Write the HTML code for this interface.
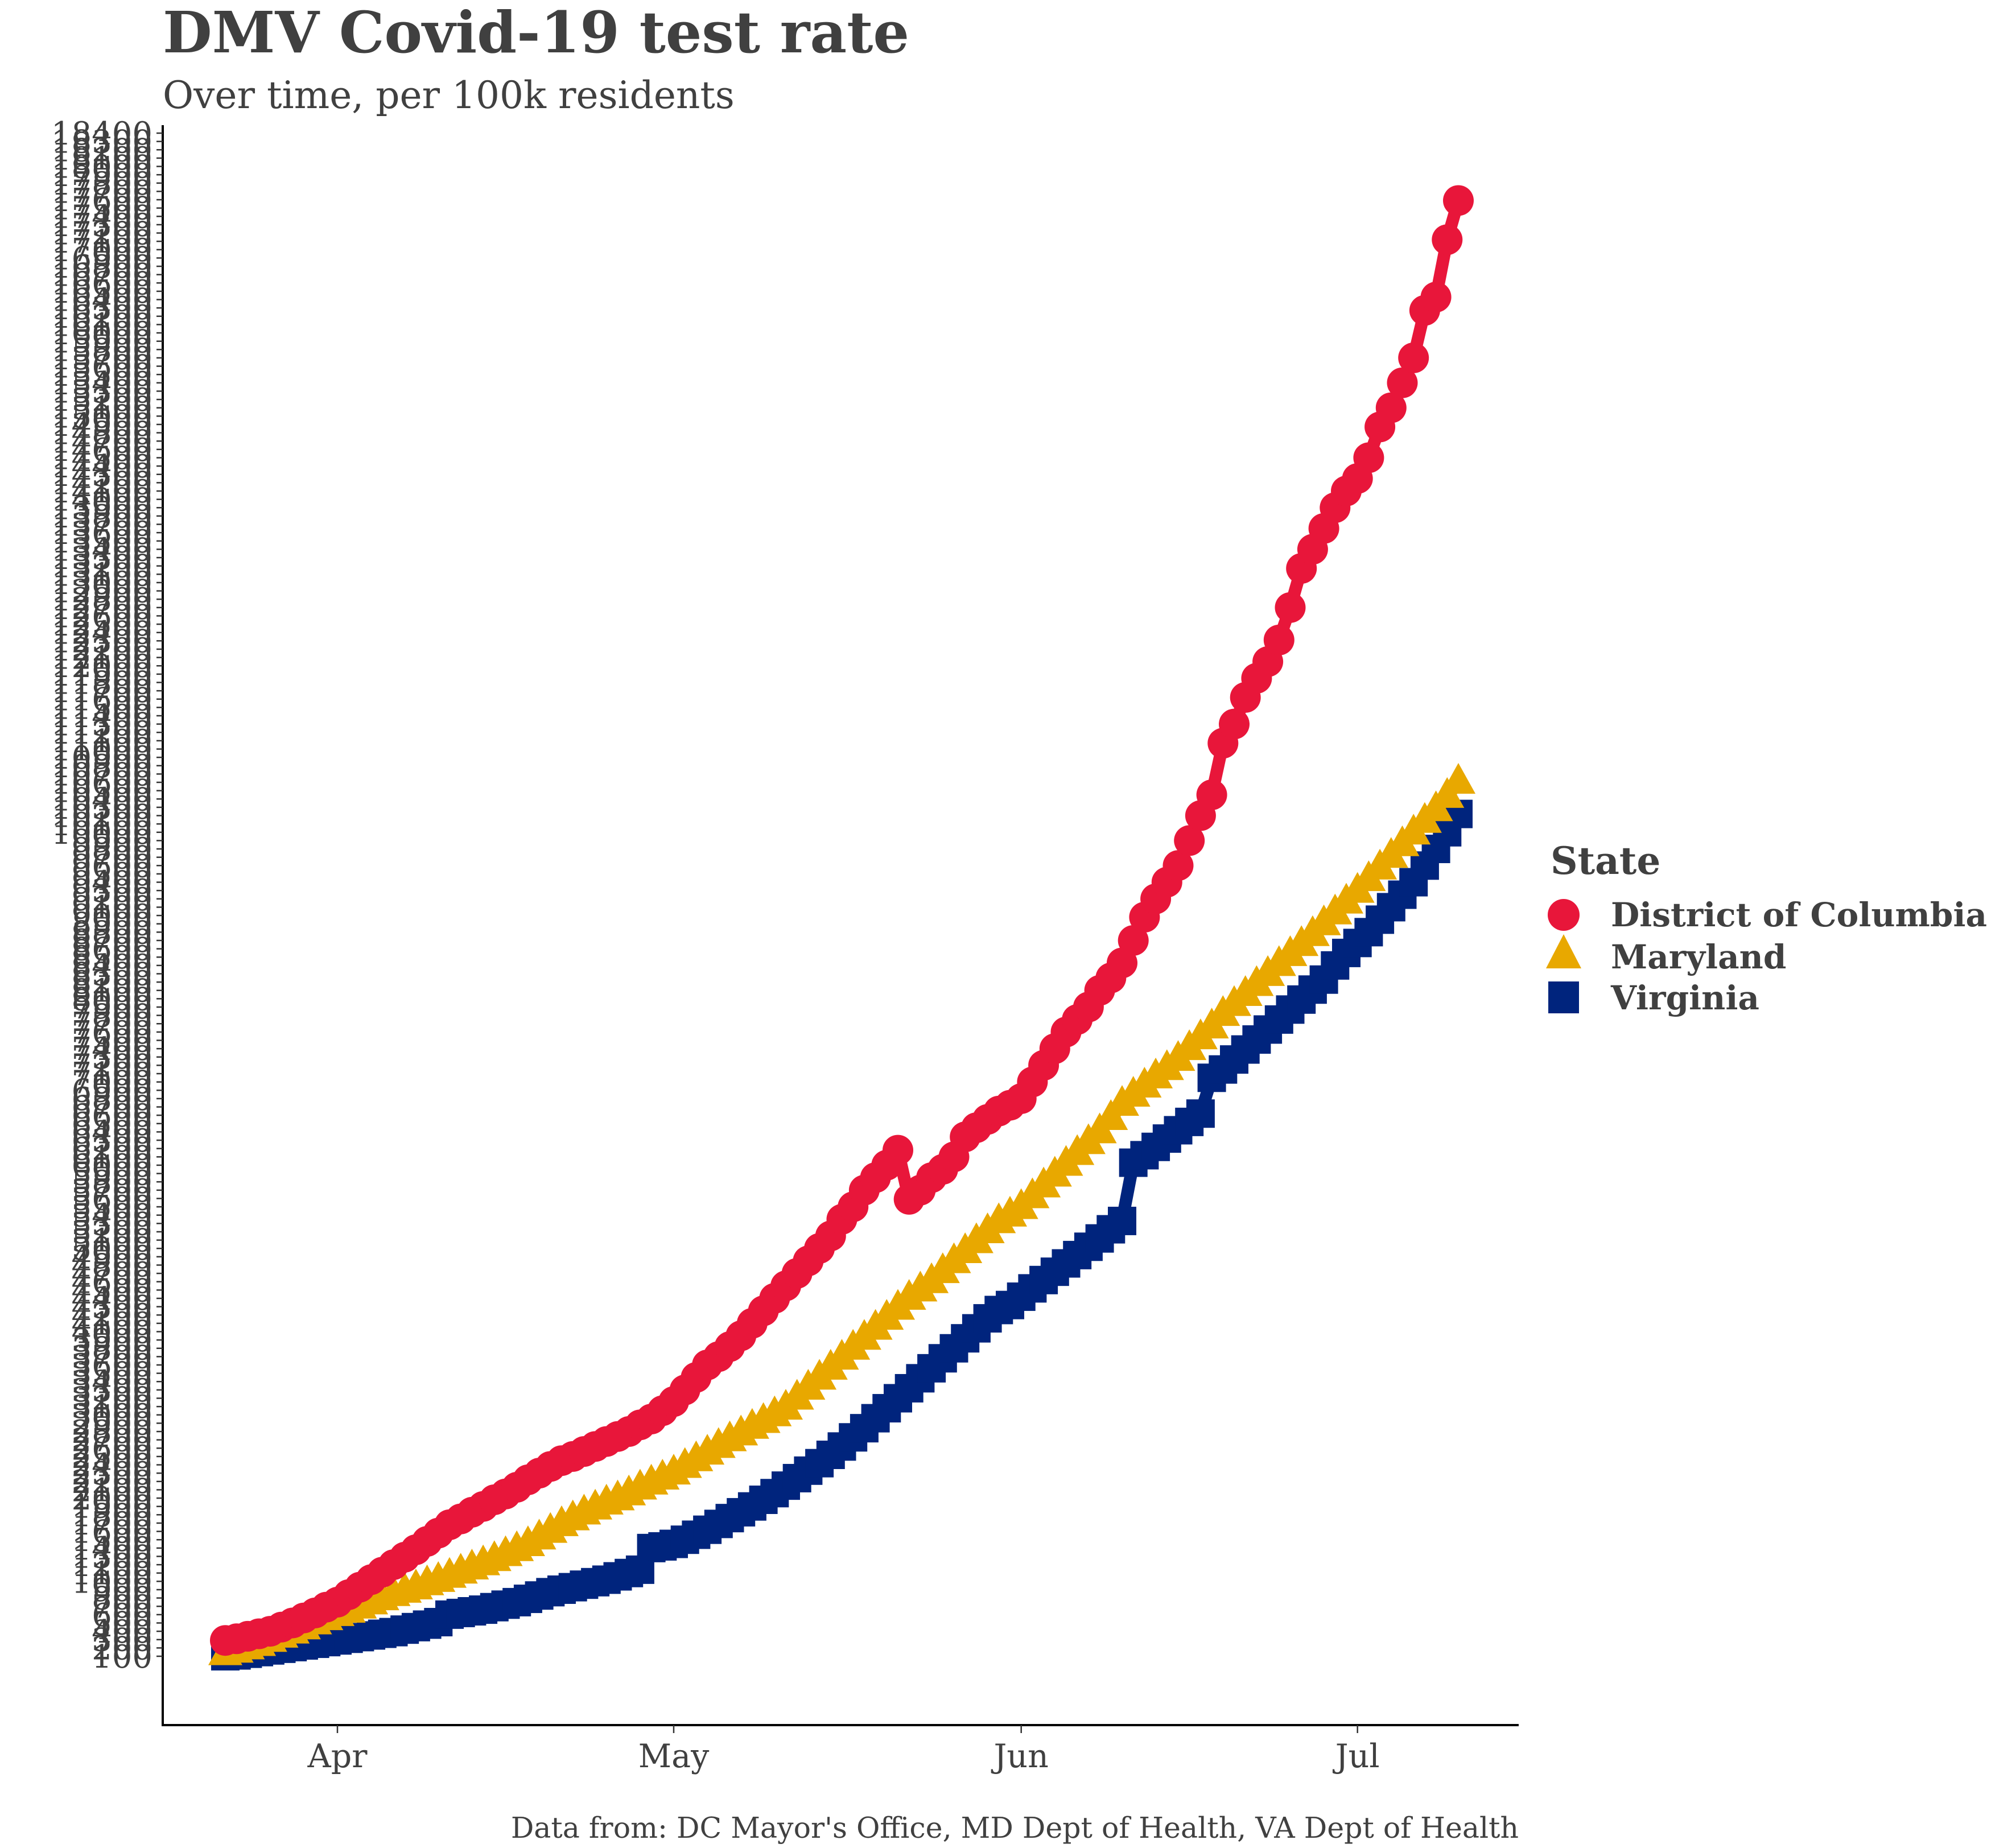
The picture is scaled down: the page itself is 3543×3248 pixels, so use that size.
<!DOCTYPE html>
<html><head><meta charset="utf-8">
<style>
html,body{margin:0;padding:0;background:#fff;}
svg{display:block;font-family:"DejaVu Serif","Liberation Serif",serif;}
</style></head>
<body>
<svg id="chart" width="3543" height="3248" viewBox="0 0 3543 3248" xmlns="http://www.w3.org/2000/svg">
<rect width="3543" height="3248" fill="#fff"/>
<text x="286" y="92" font-size="100" font-weight="bold" fill="#404040">DMV Covid-19 test rate</text>
<text x="286" y="190" font-size="66" fill="#404040">Over time, per 100k residents</text>
<text x="2669" y="3230" font-size="50.5" fill="#404040" text-anchor="end">Data from: DC Mayor's Office, MD Dept of Health, VA Dept of Health</text>
<g id="yaxis"></g>
<g id="xaxis"></g>
<g id="series"></g>
<g>
<text x="2725" y="1536" font-size="66" font-weight="bold" fill="#404040">State</text>
<g>
<circle cx="2748" cy="1608" r="28" fill="#E8163A"/>
<text x="2831" y="1628" font-size="58" font-weight="bold" fill="#404040">District of Columbia</text></g>
<g>
<polygon points="2748,1642 2779,1702 2717,1702" fill="#E8A800"/>
<text x="2831" y="1702" font-size="58" font-weight="bold" fill="#404040">Maryland</text></g>
<g>
<rect x="2721" y="1725" width="54" height="56" fill="#00247D"/>
<text x="2831" y="1774" font-size="58" font-weight="bold" fill="#404040">Virginia</text></g>
</g>
</svg>
<script>
// Day 0 = Mar 22
const startDay = 0;
const dcValues = [290,310,340,370,400,450,500,560,620,690,
750,840,930,1020,1110,1200,1290,1380,1480,1580,
1680,1750,1830,1900,1980,2050,2130,2220,2300,2380,
2450,2500,2560,2620,2680,2740,2800,2880,2950,3050,
3160,3300,3450,3600,3700,3820,3950,4100,4250,4400,
4550,4700,4850,5000,5150,5350,5500,5700,5850,6000,
6180,5590,5700,5850,5950,6100,6340,6450,6550,6650,
6720,6800,7000,7200,7400,7600,7750,7900,8100,8250,
8430,8700,8980,9200,9400,9600,9900,10200,10450,11070,
11300,11620,11850,12050,12310,12700,13170,13400,13650,13900,
14100,14250,14500,14870,15100,15400,15700,16270,16430,17120,17590];
const mdValues = [130,160,200,240,290,340,390,440,500,550,
600,640,690,740,790,840,880,920,970,1010,
1060,1110,1160,1210,1260,1320,1380,1440,1520,1600,
1680,1750,1820,1880,1940,1990,2050,2120,2180,2240,
2300,2380,2460,2540,2620,2700,2770,2850,2920,3000,
3080,3200,3320,3440,3560,3680,3800,3920,4040,4160,
4280,4400,4500,4600,4720,4840,4960,5080,5200,5320,
5400,5490,5620,5750,5880,6010,6140,6270,6400,6560,
6730,6840,6950,7060,7160,7270,7400,7530,7660,7810,
7930,8050,8170,8290,8410,8530,8650,8770,8900,9030,
9160,9290,9430,9570,9710,9850,9990,10130,10270,10430,10600];
const vaValues = [100,110,130,150,170,190,210,230,250,270,
290,310,330,350,370,390,420,450,480,510,
600,620,640,660,690,720,750,790,830,870,
900,930,960,990,1020,1060,1100,1140,1400,1420,
1450,1500,1560,1620,1690,1760,1830,1900,1980,2060,
2150,2240,2330,2420,2520,2620,2730,2840,2960,3080,
3200,3320,3440,3560,3680,3800,3920,4040,4160,4260,
4320,4420,4520,4620,4720,4820,4920,5020,5120,5230,
5330,6030,6120,6220,6320,6420,6520,6620,7050,7150,
7270,7390,7510,7630,7750,7870,7990,8110,8230,8400,
8550,8670,8800,8950,9100,9250,9400,9600,9800,10000,10220];
const xTickLabels = ["Apr","May","Jun","Jul"];
const xTickDays = [10,40,71,101];
const yTickValues = [];
for (let v = 100; v <= 18400; v += 100) yTickValues.push(v);

const NS = "http://www.w3.org/2000/svg";
const X0 = 396, DAYPX = 19.7;
function xScale(d){ return X0 + d*DAYPX; }
function yScale(v){ return 2911 - (v-100)*(2677/18300); }
function mk(tag, attrs, parent){ const e=document.createElementNS(NS,tag); for(const k in attrs) e.setAttribute(k,attrs[k]); parent.appendChild(e); return e; }

const yax = document.getElementById('yaxis');
const xax = document.getElementById('xaxis');
const ser = document.getElementById('series');

mk('line',{x1:286,y1:220,x2:286,y2:3034,stroke:'#000','stroke-width':4},yax);
yTickValues.forEach(v=>{
  const y=yScale(v);
  const t=mk('line',{x1:275,y1:y,x2:286,y2:y,stroke:'#333','stroke-width':2.5},yax);
  
  
  const l=mk('text',{x:268,y:y+20,'font-size':56,fill:'#404040','text-anchor':'end'},yax);
  
  
  l.textContent=v;
});
mk('line',{x1:284,y1:3032,x2:2669,y2:3032,stroke:'#000','stroke-width':4},xax);
xTickDays.forEach((d,i)=>{
  const x=xScale(d);
  const t=mk('line',{x1:x,y1:3032,x2:x,y2:3046,stroke:'#333','stroke-width':2.5},xax);
  
  
  const l=mk('text',{x:x,y:3106,'font-size':57,fill:'#404040','text-anchor':'middle'},xax);
  
  
  l.textContent=xTickLabels[i];
});

function drawSeries(vals,color,shape,name){
  const g=mk('g',{},ser);
  
  
  const pts=vals.map((v,i)=>xScale(startDay+i)+','+yScale(v)).join(' ');
  const pl=mk('polyline',{points:pts,fill:'none',stroke:color,'stroke-width':22,'stroke-linejoin':'round'},g);
  
  
  vals.forEach((v,i)=>{
    const x=xScale(startDay+i), y=yScale(v);
    let m;
    if(shape==='circle') m=mk('circle',{cx:x,cy:y,r:27,fill:color},g);
    else if(shape==='tri') m=mk('polygon',{points:`${x},${y-34} ${x+30},${y+20} ${x-30},${y+20}`,fill:color},g);
    else m=mk('rect',{x:x-25,y:y-25,width:50,height:50,fill:color},g);
    
    
  });
}
drawSeries(vaValues,'#00247D','sq','virginia');
drawSeries(mdValues,'#E8A800','tri','maryland');
drawSeries(dcValues,'#E8163A','circle','dc');
</script>
</body></html>
